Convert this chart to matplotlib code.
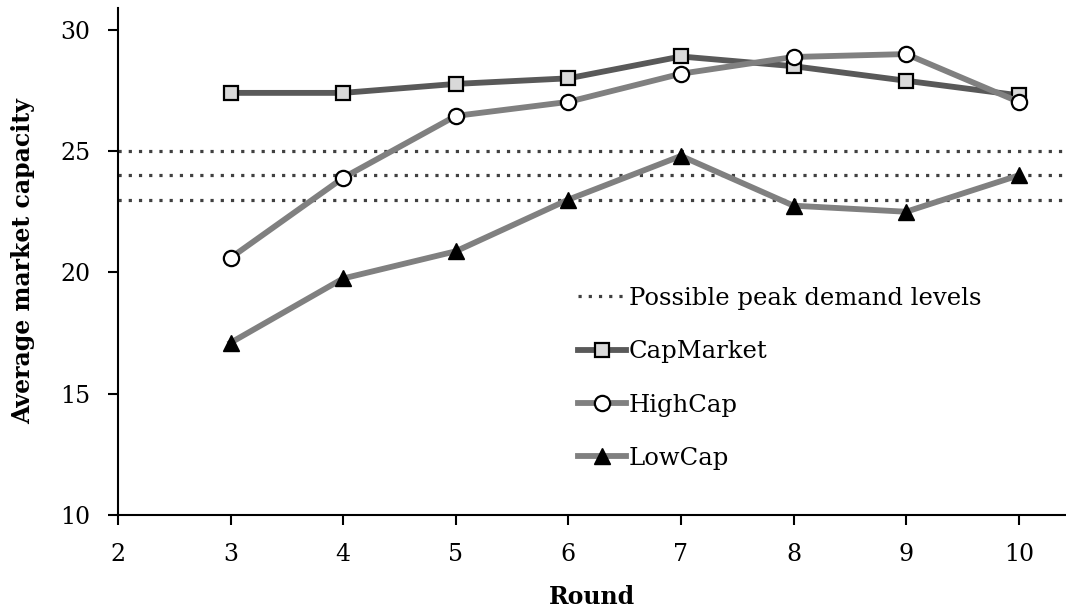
import matplotlib
matplotlib.use("Agg")
import matplotlib.pyplot as plt

rounds = [3, 4, 5, 6, 7, 8, 9, 10]
capmarket = [27.4, 27.4, 27.77, 28.0, 28.9, 28.5, 27.9, 27.3]
highcap = [20.6, 23.9, 26.45, 27.03, 28.19, 28.88, 29.0, 27.03]
lowcap = [17.1, 19.75, 20.87, 23.0, 24.8, 22.75, 22.5, 24.0]
peak_levels = [23, 24, 25]
xticks = [2, 3, 4, 5, 6, 7, 8, 9, 10]
yticks = [10, 15, 20, 25, 30]

plt.rcParams['font.family'] = ['DejaVu Serif']

fig = plt.figure(figsize=(10.66, 6.09), dpi=100)
ax = fig.add_axes([0.1107, 0.1544, 0.8893, 0.8325])

for i, lvl in enumerate(peak_levels):
    ax.axhline(lvl, color='#404040', linestyle=(0, (1, 2.2)), linewidth=2.3,
               label='Possible peak demand levels' if i == 0 else None, zorder=1)

ax.plot(rounds, capmarket, color='#595959', linewidth=4.2, marker='s', markersize=10.5,
        markerfacecolor='#d9d9d9', markeredgecolor='black', markeredgewidth=1.6,
        label='CapMarket', zorder=3)
ax.plot(rounds, highcap, color='#808080', linewidth=4.2, marker='o', markersize=11,
        markerfacecolor='white', markeredgecolor='black', markeredgewidth=1.6,
        label='HighCap', zorder=4)
ax.plot(rounds, lowcap, color='#808080', linewidth=4.2, marker='^', markersize=12,
        markerfacecolor='black', markeredgecolor='black', markeredgewidth=1.0,
        label='LowCap', zorder=4)

ax.set_xlim(2, 10.42)
ax.set_ylim(10, 30.9)
ax.set_xticks(xticks)
ax.set_yticks(yticks)
ax.tick_params(axis='both', direction='out', length=7, width=1.5, labelsize=17)
ax.tick_params(axis='y', pad=13)
ax.tick_params(axis='x', pad=13)
for s in ['top', 'right']:
    ax.spines[s].set_visible(False)
for s in ['left', 'bottom']:
    ax.spines[s].set_linewidth(1.5)

ax.set_xlabel('Round', fontsize=17, fontweight='bold', labelpad=14)
ax.set_ylabel('Average market capacity', fontsize=17, fontweight='bold', labelpad=18)

leg = ax.legend(loc='upper left', bbox_to_anchor=(0.485, 0.45), frameon=False,
                fontsize=17.5, handlelength=2.0, handletextpad=0.1,
                labelspacing=1.25, borderaxespad=0, borderpad=0)

fig.savefig('out.png', dpi=100)
